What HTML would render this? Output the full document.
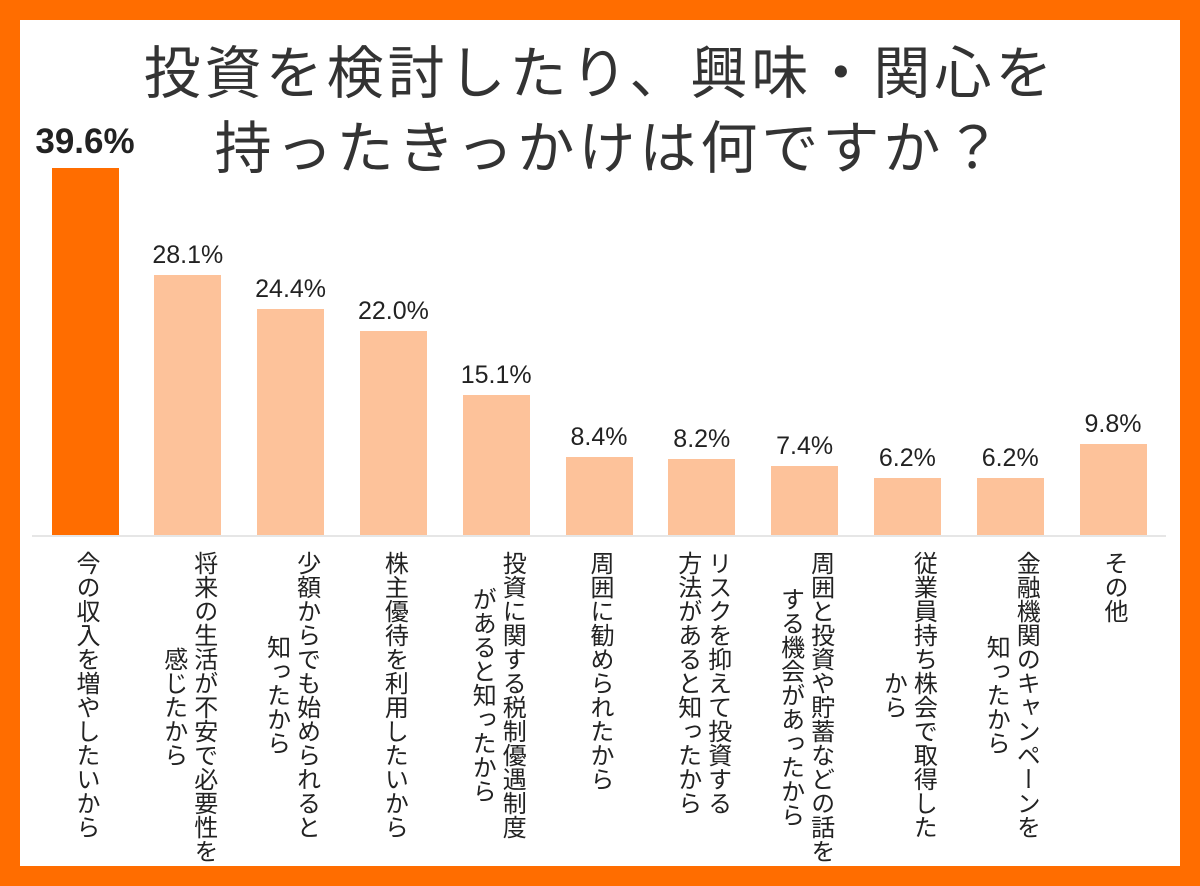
<!DOCTYPE html>
<html><head><meta charset="utf-8"><style>
html,body{margin:0;padding:0}
body{width:1200px;height:886px;position:relative;overflow:hidden;background:#fff;font-family:"Liberation Sans","Noto Sans CJK JP",sans-serif;color:#222}
.frame{position:absolute;left:0;top:0;width:1160px;height:846px;border:20px solid #ff6d00;background:#fff}
.t{position:absolute;left:0;width:1200px;text-align:center;font-size:57px;letter-spacing:4px;color:#333;white-space:nowrap}
.bar{position:absolute;width:67px;background:#fdc29a}
.v{position:absolute;width:140px;text-align:center;font-size:25px;color:#222}
.lab{position:absolute;top:551px;writing-mode:vertical-rl;text-align:center;font-size:24px;line-height:30px;transform:translateX(-50%);white-space:nowrap}
</style></head><body>
<div class="frame"></div>
<div class="t" style="top:28px">投資を検討したり、興味・関心を</div>
<div class="t" style="top:103px;left:10px">持ったきっかけは何ですか？</div>
<div style="position:absolute;left:32px;top:535px;width:1134px;height:2px;background:#e6e6e6"></div>
<div id="c"></div>
<script>
var d=[[39.6,"今の収入を増やしたいから"],[28.1,"将来の生活が不安で必要性を<br>感じたから"],[24.4,"少額からでも始められると<br>知ったから"],[22.0,"株主優待を利用したいから"],[15.1,"投資に関する税制優遇制度<br>があると知ったから"],[8.4,"周囲に勧められたから"],[8.2,"リスクを抑えて投資する<br>方法があると知ったから"],[7.4,"周囲と投資や貯蓄などの話を<br>する機会があったから"],[6.2,"従業員持ち株会で取得した<br>から"],[6.2,"金融機関のキャンペーンを<br>知ったから"],[9.8,"その他"]];
var h="";
d.forEach(function(e,i){
 var cx=85+i*102.8,top=535-e[0]*9.27;
 h+='<div class="bar" style="left:'+(cx-33.5)+'px;top:'+top+'px;height:'+(535-top)+'px;'+(i==0?'background:#ff6d00':'')+'"></div>';
 if(i==0)h+='<div class="v" style="left:'+(cx-70)+'px;top:'+(top-46)+'px;font-size:35px;font-weight:bold">39.6%</div>';
 else h+='<div class="v" style="left:'+(cx-70)+'px;top:'+(top-34)+'px">'+e[0].toFixed(1)+'%</div>';
 h+='<div class="lab" style="left:'+cx+'px">'+e[1]+'</div>';
});
document.getElementById("c").innerHTML=h;
</script>
</body></html>
